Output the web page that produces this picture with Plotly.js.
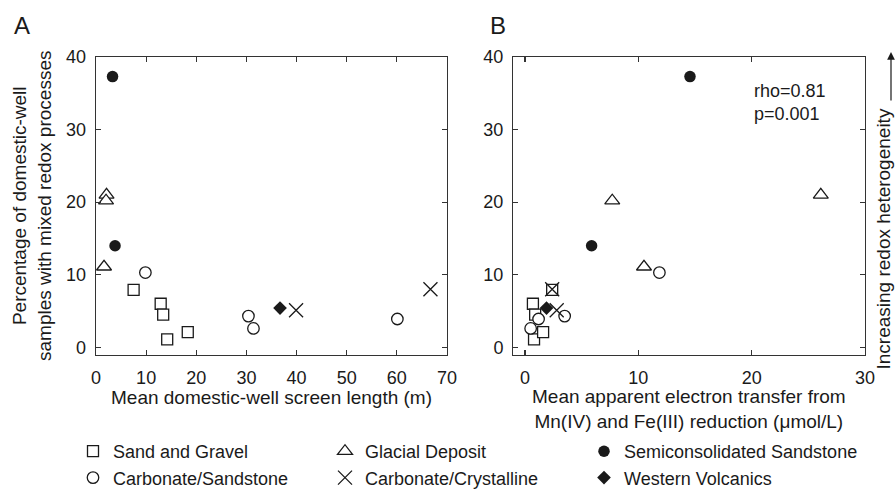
<!DOCTYPE html>
<html>
<head>
<meta charset="utf-8">
<script src="https://cdn.plot.ly/plotly-3.0.1.min.js"></script>
<style>html,body{margin:0;padding:0;background:#fff;}#chart{width:896px;height:496px;}</style>
</head>
<body>
<div id="chart"></div>
<script>
// ---- Data ----
// Panel A x: mean domestic-well screen length (m); Panel B x: mean apparent electron transfer (umol/L)
// y: percentage of domestic-well samples with mixed redox processes
const sandGravelLen = [7.5, 12.9, 13.4, 14.2, 18.3];
const sandGravelET  = [2.4, 0.7, 0.9, 0.8, 1.6];
const sandGravelPct = [7.9, 6.0, 4.5, 1.1, 2.1];

const glacialLen = [2.1, 2.0, 1.6];
const glacialET  = [26.1, 7.7, 10.5];
const glacialPct = [21.0, 20.2, 11.1];

const carbSandLen = [9.85, 30.4, 31.4, 60.1];
const carbSandET  = [11.86, 3.5, 0.5, 1.2];
const carbSandPct = [10.3, 4.3, 2.6, 3.9];

const semiSandLen = [3.3, 3.8];
const semiSandET  = [14.56, 5.88];
const semiSandPct = [37.3, 14.0];

const westVolcLen = [36.7];
const westVolcET  = [1.9];
const westVolcPct = [5.4];

const carbCrystLen = [39.9, 66.7];
const carbCrystET  = [2.8, 2.4];
const carbCrystPct = [5.1, 8.0];

const xTicksA = [0, 10, 20, 30, 40, 50, 60, 70];
const xTicksB = [0, 10, 20, 30];
const yTicks  = [0, 10, 20, 30, 40];

const INK = '#1a1a1a';
const FONT = 'Liberation Sans, Arial, Helvetica, sans-serif';

// legend column for each series (three columns of two rows, as in the reference)
const series = [
  {name: 'Sand and Gravel', a: sandGravelLen, b: sandGravelET, y: sandGravelPct, legend: 'legend',
   marker: {symbol: 'square', size: 11, color: '#ffffff', line: {color: INK, width: 1.3}}},
  {name: 'Glacial Deposit', a: glacialLen, b: glacialET, y: glacialPct, legend: 'legend2',
   marker: {symbol: 'triangle-up', size: 13, color: '#ffffff', line: {color: INK, width: 1.3}}},
  {name: 'Carbonate/Sandstone', a: carbSandLen, b: carbSandET, y: carbSandPct, legend: 'legend',
   marker: {symbol: 'circle', size: 11.5, color: '#ffffff', line: {color: INK, width: 1.3}}},
  {name: 'Semiconsolidated Sandstone', a: semiSandLen, b: semiSandET, y: semiSandPct, legend: 'legend3',
   marker: {symbol: 'circle', size: 11.5, color: INK, line: {color: INK, width: 0}}},
  {name: 'Western Volcanics', a: westVolcLen, b: westVolcET, y: westVolcPct, legend: 'legend3',
   marker: {symbol: 'diamond', size: 10.5, color: INK, line: {color: INK, width: 0}}},
  {name: 'Carbonate/Crystalline', a: carbCrystLen, b: carbCrystET, y: carbCrystPct, legend: 'legend2',
   marker: {symbol: 'x-thin', size: 14, color: INK, line: {color: INK, width: 1.3}}}
];

const traces = [];
series.forEach(s => {
  traces.push({type: 'scatter', mode: 'markers', x: s.a, y: s.y, xaxis: 'x', yaxis: 'y',
    name: s.name, legendgroup: s.name, legend: s.legend, showlegend: true,
    marker: s.marker, hoverinfo: 'x+y+name'});
  traces.push({type: 'scatter', mode: 'markers', x: s.b, y: s.y, xaxis: 'x2', yaxis: 'y2',
    name: s.name, legendgroup: s.name, legend: s.legend, showlegend: false,
    marker: s.marker, hoverinfo: 'x+y+name'});
});

const W = 896, H = 496;
const px = v => v / W;
const py = v => (H - v) / H;

const axisCommon = {
  showline: true, linecolor: '#333', linewidth: 1.3, mirror: 'ticks',
  ticks: 'inside', ticklen: 5, tickwidth: 1.2, tickcolor: '#333',
  showgrid: false, zeroline: false,
  tickfont: {family: FONT, size: 18, color: INK}
};

const legendCommon = {
  orientation: 'v', xanchor: 'left', y: 0, yanchor: 'bottom', itemwidth: 30,
  font: {family: FONT, size: 18, color: INK}, bgcolor: 'rgba(0,0,0,0)',
  tracegroupgap: 0, traceorder: 'normal'
};

const layout = {
  width: W, height: H,
  margin: {l: 0, r: 0, t: 0, b: 0},
  paper_bgcolor: '#ffffff', plot_bgcolor: '#ffffff',
  font: {family: FONT, color: INK},
  xaxis: Object.assign({}, axisCommon, {domain: [px(96), px(447)], range: [0, 70],
    tickvals: xTicksA, ticklabelstandoff: 6, anchor: 'y'}),
  yaxis: Object.assign({}, axisCommon, {domain: [py(355), py(57)], range: [-1.06, 40],
    tickvals: yTicks, ticklabelstandoff: 5, anchor: 'x'}),
  xaxis2: Object.assign({}, axisCommon, {domain: [px(513.3), px(865)], range: [-1.03, 30],
    tickvals: xTicksB, ticklabelstandoff: 6, anchor: 'y2'}),
  yaxis2: Object.assign({}, axisCommon, {domain: [py(355), py(57)], range: [-1.06, 40],
    tickvals: yTicks, ticklabelstandoff: 5, anchor: 'x2'}),
  showlegend: true,
  legend:  Object.assign({}, legendCommon, {x: px(73)}),
  legend2: Object.assign({}, legendCommon, {x: px(325)}),
  legend3: Object.assign({}, legendCommon, {x: px(584)}),
  annotations: [
    {text: 'A', x: px(12), y: py(25), xref: 'paper', yref: 'paper', xanchor: 'left', yanchor: 'middle',
     showarrow: false, font: {family: FONT, size: 24, color: INK}},
    {text: 'B', x: px(487.5), y: py(25), xref: 'paper', yref: 'paper', xanchor: 'left', yanchor: 'middle',
     showarrow: false, font: {family: FONT, size: 24, color: INK}},
    {text: 'Percentage of domestic-well<br>samples with mixed redox processes', x: px(32), y: py(206),
     xref: 'paper', yref: 'paper', xanchor: 'center', yanchor: 'middle', textangle: -90,
     showarrow: false, font: {family: FONT, size: 19, color: INK}},
    {text: 'Mean domestic-well screen length (m)', x: px(271.5), y: py(397),
     xref: 'paper', yref: 'paper', xanchor: 'center', yanchor: 'middle',
     showarrow: false, font: {family: FONT, size: 19, color: INK}},
    {text: 'Mean apparent electron transfer from<br>Mn(IV) and Fe(III) reduction (μmol/L)', x: px(689), y: py(408.5),
     xref: 'paper', yref: 'paper', xanchor: 'center', yanchor: 'middle',
     showarrow: false, font: {family: FONT, size: 19, color: INK}},
    {text: 'rho=0.81<br>p=0.001', x: px(752), y: py(102), align: 'left',
     xref: 'paper', yref: 'paper', xanchor: 'left', yanchor: 'middle',
     showarrow: false, font: {family: FONT, size: 18, color: INK}},
    {text: 'Increasing redox heterogeneity', x: px(883.5), y: py(239),
     xref: 'paper', yref: 'paper', xanchor: 'center', yanchor: 'middle', textangle: -90,
     showarrow: false, font: {family: FONT, size: 19, color: INK}},
    {text: '', x: px(891), y: py(52), xref: 'paper', yref: 'paper',
     showarrow: true, ax: 0, ay: 50, arrowhead: 2, arrowsize: 1.3, arrowwidth: 1.2, arrowcolor: INK}
  ]
};

Plotly.newPlot('chart', traces, layout, {displayModeBar: false, staticPlot: true});
</script>
</body>
</html>
